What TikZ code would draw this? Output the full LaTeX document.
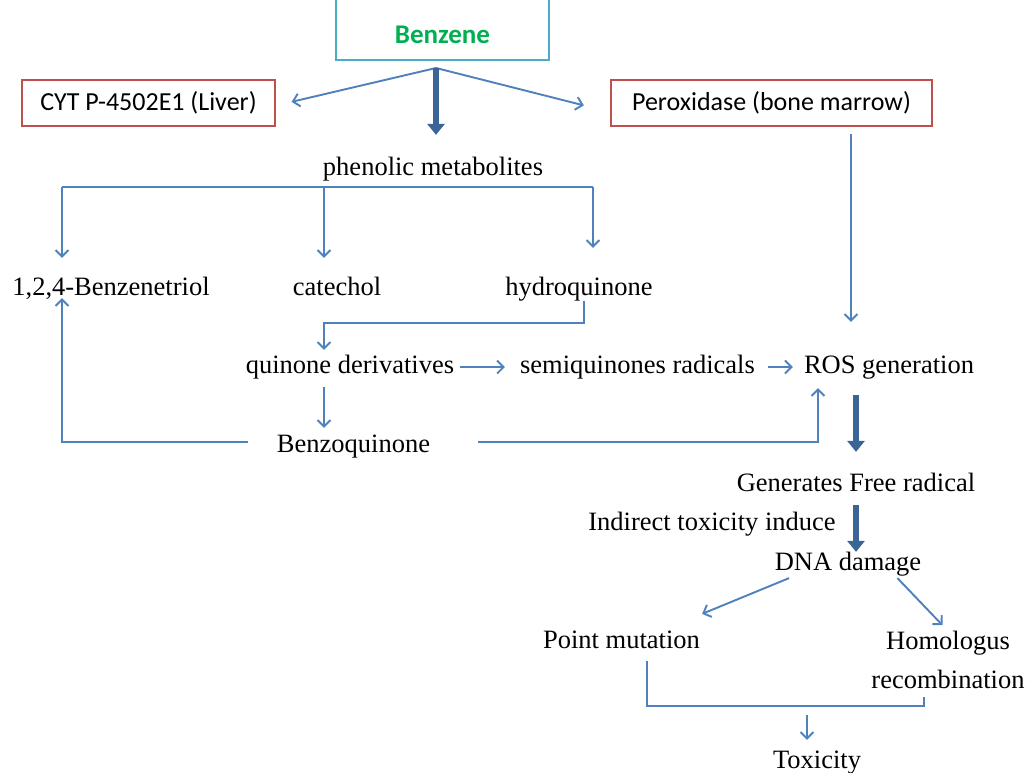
\documentclass[tikz,border=0pt]{standalone}
\usepackage{fontspec}
\setmainfont{Liberation Serif}
\newfontfamily\boxfont{Carlito}
\usetikzlibrary{arrows.meta,calc}
\definecolor{lineblue}{HTML}{4F81BD}
\definecolor{darkblue}{HTML}{3B6597}
\definecolor{boxred}{HTML}{C0504D}
\definecolor{boxcyan}{HTML}{4BACC6}
\definecolor{benzgreen}{HTML}{00B050}
\begin{document}
\begin{tikzpicture}[x=1pt,y=-1pt,
  lbl/.style={inner sep=0pt, text height=18.1pt, text depth=5.75pt,
    font=\fontsize{26.5}{30}\selectfont},
  lbltwo/.style={inner sep=0pt, align=center,
    font=\fontsize{26.5}{39}\selectfont},
  redbox/.style={draw=boxred, line width=2pt, inner sep=0pt,
    minimum height=46pt, font=\boxfont\fontsize{26}{30}\selectfont},
  flow/.style={draw=lineblue, line width=1.9pt,
    -{Straight Barb[length=6.5pt,width=13pt,line width=1.9pt]}},
  plain/.style={draw=lineblue, line width=1.9pt},
  bigflow/.style={draw=darkblue, line width=6pt,
    -{Triangle[length=11pt,width=17pt]}, fill=darkblue}]
\useasboundingbox (0,0) rectangle (1027,772);
\fill[white] (0,0) rectangle (1027,772);
\clip (0,0) rectangle (1027,772);

% boxes
\node[draw=boxcyan, line width=2.2pt, inner xsep=0pt, inner ysep=0pt,
      minimum width=213pt, text height=63pt, text depth=17pt,
      font=\boxfont\bfseries\fontsize{27}{30}\selectfont, text=benzgreen]
      (benz) at (442.5,20) {Benzene};
\node[redbox, minimum width=253pt] (cyt) at (148.5,103) {CYT P-4502E1 (Liver)};
\node[redbox, minimum width=321pt] (perox) at (771.5,103) {Peroxidase (bone marrow)};

% text nodes
\node[lbl] (phen) at (433,169) {phenolic metabolites};
\node[lbl] (btriol) at (111,289) {1,2,4-Benzenetriol};
\node[lbl] (catechol) at (337,289) {catechol};
\node[lbl] (hydro) at (579,289) {hydroquinone};
\node[lbl] (quinone) at (350,367) {quinone derivatives};
\node[lbl] (semi) at (637.5,367) {semiquinones radicals};
\node[lbl] (ros) at (889,367) {ROS generation};
\node[lbl] (benzoq) at (353.5,446) {Benzoquinone};
\node[lbl] (gen) at (856,485) {Generates Free radical};
\node[lbl] (indirect) at (712,524) {Indirect toxicity induce};
\node[lbl] (dna) at (848,564) {DNA damage};
\node[lbl] (point) at (621.5,642) {Point mutation};
\node[lbltwo, anchor=north] (homol) at (948,631) {Homologus\\recombination};
\node[lbl] (tox) at (817,762) {Toxicity};

% from benzene
\coordinate (bs) at (436,68);
\draw[flow, shorten >=16pt] (bs) -- ($(cyt.east)+(0,2.5)$);
\draw[flow, shorten >=27pt] (bs) -- ($(perox.west)+(0,9)$);
\draw[bigflow, shorten >=22pt] (bs) -- (bs |- phen.north);

% phenolic branches
\coordinate (pl) at (62,187);
\coordinate (pm) at (324,187);
\coordinate (pr) at (593,187);
\draw[plain] (pl) -- (pr);
\draw[flow, shorten >=19pt] (pl) -- (pl |- btriol.north);
\draw[flow, shorten >=19pt] (pm) -- (pm |- catechol.north);
\draw[flow, shorten >=29pt] (pr) -- (pr |- hydro.north);

% hydroquinone -> quinone derivatives
\draw[flow] ($(hydro.south)+(5,0)$) -- ++(0,22) -| ($(quinone.north)+(-26,-5)$);
% quinone -> semiquinones -> ROS
\draw[flow, shorten <=6pt, shorten >=15pt] (quinone.east) -- (semi.west);
\draw[flow, shorten <=13pt, shorten >=11pt] (semi.east) -- (ros.west);
% peroxidase -> ROS
\coordinate (px) at ($(perox.south)+(79.5,0)$);
\draw[flow, shorten <=7pt, shorten >=33pt] (px) -- (px |- ros.north);
% quinone -> benzoquinone
\coordinate (qx) at ($(quinone.south)+(-26,0)$);
\draw[flow, shorten <=8pt, shorten >=6pt] (qx) -- (qx |- benzoq.north);
% benzoquinone -> benzenetriol
\draw[flow, shorten <=29pt] ($(benzoq.west)+(0,-4)$) -| ($(btriol.south)+(-49,-3)$);
% benzoquinone -> ROS
\draw[flow, shorten <=48pt] ($(benzoq.east)+(0,-4)$) -| ($(ros.south)+(-71,9)$);

% ROS -> free radical -> DNA damage
\draw[bigflow, shorten <=16pt, shorten >=21pt] (gen.north |- ros.south) -- (gen.north);
\draw[bigflow, shorten <=8pt] (gen.south) -- (gen.south |- dna.north);

% DNA damage -> outcomes
\draw[flow] ($(dna.south)+(-59,2)$) -- ($(point.north east)+(2,-16)$);
\draw[flow, shorten >=8pt] ($(dna.south east)+(-24,2)$) -- (homol.north);

% outcomes -> toxicity
\coordinate (join) at (807,706);
\draw[plain] ($(point.south)+(25.5,7)$) |- (join) -| ($(homol.south)+(-24,8)$);
\draw[flow, shorten <=9pt, shorten >=10pt] (join) -- (join |- tox.north);
\end{tikzpicture}
\end{document}
